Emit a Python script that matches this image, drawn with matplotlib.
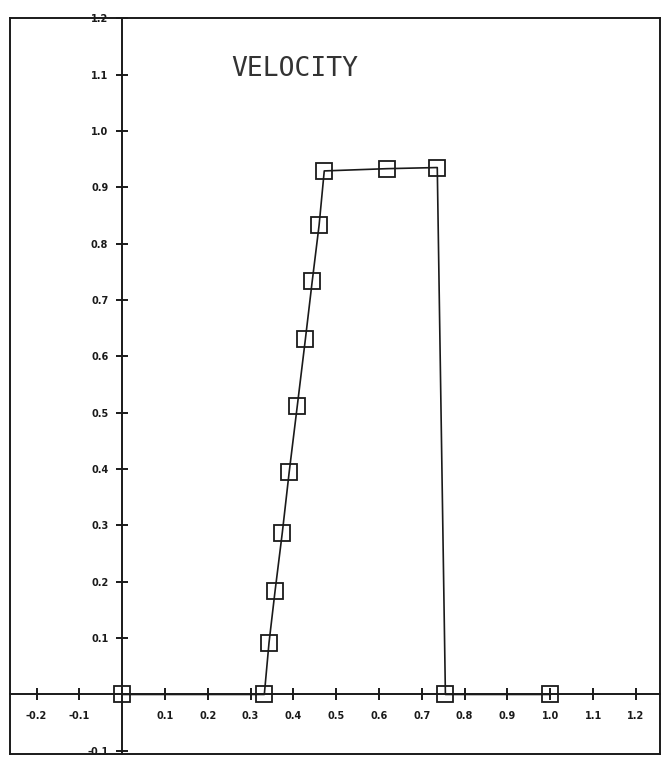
import matplotlib
matplotlib.use("Agg")
import matplotlib.pyplot as plt
from matplotlib.lines import Line2D

# Velocity profile samples (x, y)
vel_x = [0.0, 0.332, 0.343, 0.357, 0.374, 0.390, 0.409, 0.428, 0.444, 0.460,
         0.472, 0.619, 0.736, 0.755, 1.0]
vel_y = [0.0, 0.0, 0.092, 0.183, 0.287, 0.394, 0.512, 0.631, 0.734, 0.833,
         0.929, 0.933, 0.935, 0.0, 0.0]

x_ticks = [-0.2, -0.1, 0.1, 0.2, 0.3, 0.4, 0.5, 0.6, 0.7, 0.8, 0.9, 1.0, 1.1, 1.2]
y_ticks = [-0.1, 0.1, 0.2, 0.3, 0.4, 0.5, 0.6, 0.7, 0.8, 0.9, 1.0, 1.1, 1.2]
title = "VELOCITY"

ink = "#1a1a1a"

fig = plt.figure(figsize=(6.69, 7.58), dpi=100)
ax = fig.add_axes([0.015, 0.005, 0.972, 0.971])
ax.set_xlim(-0.262, 1.257)
ax.set_ylim(-0.106, 1.196)

# axes crossing at the origin, outer frame on the figure edges
for side in ("left", "bottom"):
    ax.spines[side].set_position(("data", 0))
    ax.spines[side].set_linewidth(1.4)
    ax.spines[side].set_color(ink)
for side in ("top", "right"):
    ax.spines[side].set_linewidth(1.4)
    ax.spines[side].set_color(ink)
for xs, ys in (([0, 0], [0, 1]), ([0, 1], [0, 0])):
    ax.add_line(Line2D(xs, ys, transform=ax.transAxes, color=ink, lw=1.4,
                       clip_on=False))

ax.set_xticks(x_ticks)
ax.set_yticks(y_ticks)
ax.set_xticklabels([f"{v:.1f}" for v in x_ticks])
ax.set_yticklabels([f"{v:.1f}" for v in y_ticks])
ax.tick_params(direction="inout", length=8, width=1.4, color=ink,
               labelsize=7, labelcolor=ink, pad=6)
for lab in ax.get_xticklabels() + ax.get_yticklabels():
    lab.set_fontweight("bold")
ax.tick_params(axis="x", pad=8)

ax.plot(vel_x, vel_y, color=ink, lw=1.2, marker="s", markersize=11.5,
        markerfacecolor="none", markeredgecolor=ink, markeredgewidth=1.3,
        clip_on=False, zorder=3)

ax.text(0.404, 1.11, title, family="DejaVu Sans Mono", fontsize=19,
        color="#333333", ha="center", va="center")

fig.savefig("out.png", dpi=100, facecolor="white")
